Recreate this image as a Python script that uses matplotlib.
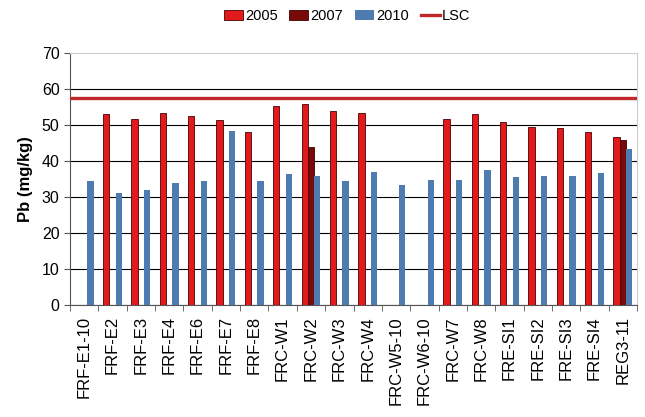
import matplotlib.pyplot as plt
import numpy as np

plt.rcParams['font.family'] = ['Liberation Sans', 'DejaVu Sans']

sites = ["FRF-E1-10", "FRF-E2", "FRF-E3", "FRF-E4", "FRF-E6", "FRF-E7", "FRF-E8",
         "FRC-W1", "FRC-W2", "FRC-W3", "FRC-W4", "FRC-W5-10", "FRC-W6-10",
         "FRC-W7", "FRC-W8", "FRE-SI1", "FRE-SI2", "FRE-SI3", "FRE-SI4", "REG3-11"]
nan = np.nan
pb_2005 = [nan, 53.0, 51.6, 53.2, 52.5, 51.3, 48.1, 55.3, 55.7, 53.8, 53.2,
           nan, nan, 51.7, 53.0, 50.7, 49.5, 49.1, 48.0, 46.6]
pb_2007 = [nan, nan, nan, nan, nan, nan, nan, nan, 43.8, nan, nan,
           nan, nan, nan, nan, nan, nan, nan, nan, 45.9]
pb_2010 = [34.5, 31.1, 31.8, 33.9, 34.5, 48.4, 34.5, 36.4, 35.8, 34.5, 37.0,
           33.4, 34.7, 34.7, 37.4, 35.4, 35.9, 35.8, 36.5, 43.4]
lsc = 57.5

fig = plt.figure(figsize=(6.45, 4.17), dpi=100)
ax = fig.add_axes([70/645, 1 - 305/417, 567/645, 252.3/417])

x = np.arange(len(sites))
w = 1 / 4.5
b1 = ax.bar(x - w, pb_2005, w, color='#e31a1c', edgecolor='#4a0000', linewidth=0.6,
            label='2005', zorder=3)
b2 = ax.bar(x, pb_2007, w, color='#7a0a0a', edgecolor='#3a0000', linewidth=0.6,
            label='2007', zorder=3)
b3 = ax.bar(x + w, pb_2010, w, color='#4f7cb0', linewidth=0, label='2010', zorder=3)
ln = ax.axhline(lsc, color='#c0282c', linewidth=2.4, label='LSC', zorder=4)

ax.set_xlim(-0.5, len(sites) - 0.5)
ax.set_ylim(0, 70)
ax.set_yticks(range(0, 71, 10))
ax.yaxis.grid(True, color='black', linewidth=0.8, zorder=0)
ax.yaxis.get_gridlines()[-1].set_visible(False)
ax.set_axisbelow(True)

ax.set_xticks(x)
ax.set_xticklabels(sites, rotation=90, fontsize=12)
ax.set_xticks(np.arange(-0.5, len(sites)), minor=True)
ax.tick_params(axis='x', which='major', length=0, pad=8)
ax.tick_params(axis='x', which='minor', length=4, color='#555555')
ax.tick_params(axis='y', length=4, color='#555555', labelsize=11.5)

for s in ['top', 'right']:
    ax.spines[s].set_color('#cccccc')
    ax.spines[s].set_linewidth(0.8)
for s in ['left', 'bottom']:
    ax.spines[s].set_color('#555555')
    ax.spines[s].set_linewidth(0.8)

ax.set_ylabel('Pb (mg/kg)', fontsize=12, fontweight='bold', labelpad=6)

fig.legend([b1, b2, b3, ln], ['2005', '2007', '2010', 'LSC'],
           loc='center', bbox_to_anchor=(347/645, 1 - 16/417), ncol=4,
           frameon=False, fontsize=10.5, handlelength=1.3, handletextpad=0.15,
           columnspacing=0.8)

fig.savefig('out.png', dpi=100)
